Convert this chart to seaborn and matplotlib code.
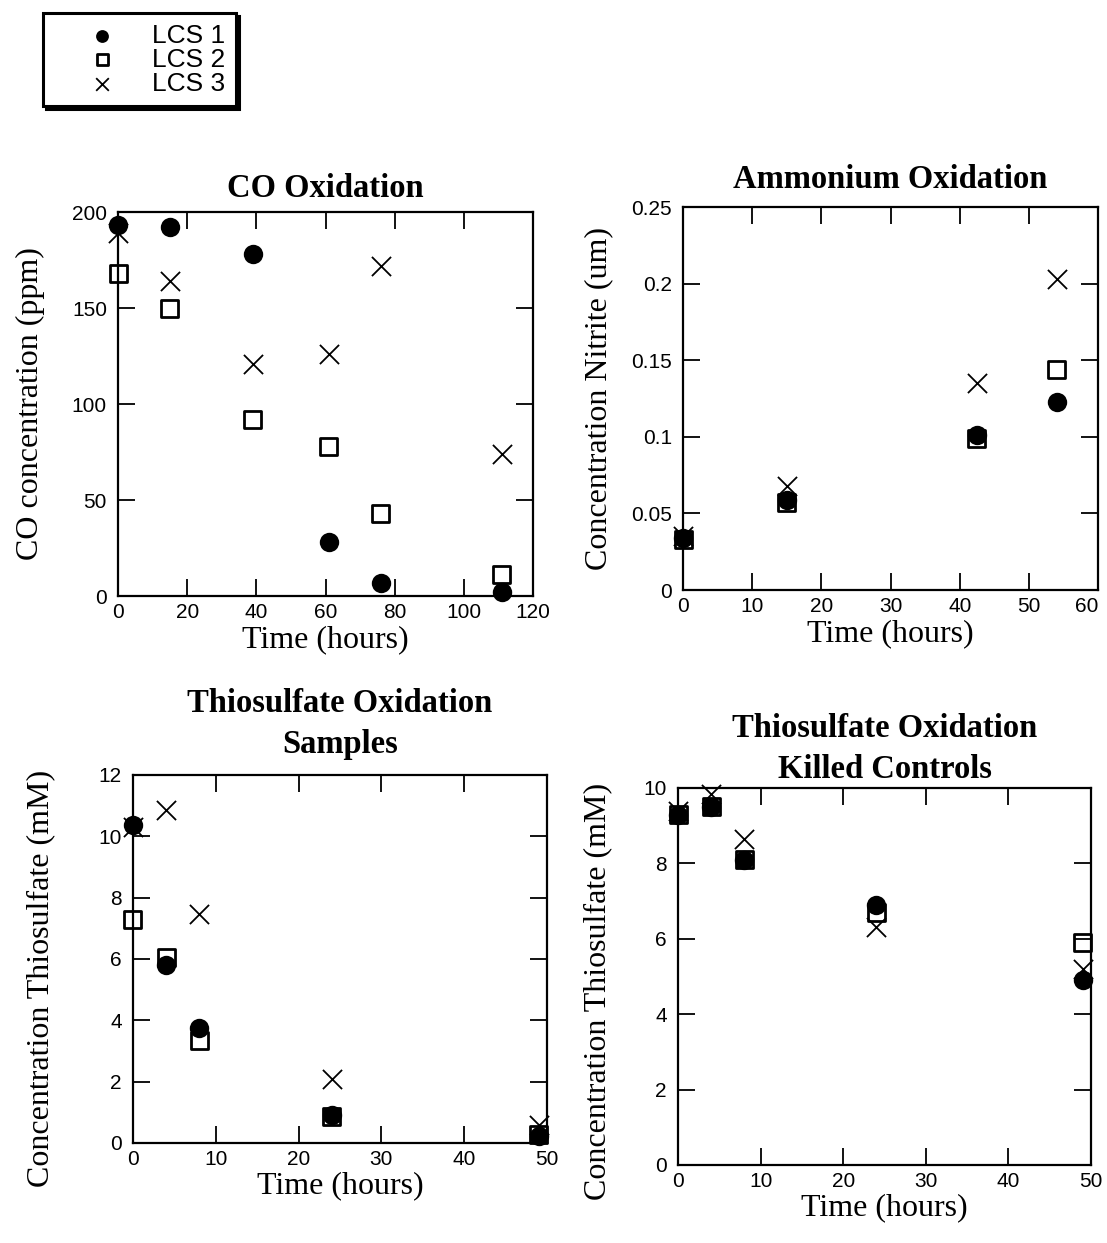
import numpy as np
import pandas as pd
import matplotlib
matplotlib.use("Agg")
import matplotlib.pyplot as plt
import seaborn as sns

# CO oxidation (ppm)
co_time = [0, 15, 39, 61, 76, 111]
co_lcs1 = [193, 192, 178, 28, 7, 2]
co_lcs2 = [168, 150, 92, 78, 43, 11]
co_lcs3 = [189, 164, 121, 126, 172, 74]

# Ammonium oxidation, nitrite (um)
nh_time = [0, 15, 42.5, 54]
nh_lcs1 = [0.034, 0.059, 0.101, 0.123]
nh_lcs2 = [0.033, 0.057, 0.099, 0.144]
nh_lcs3 = [0.035, 0.068, 0.135, 0.203]

# Thiosulfate oxidation, samples (mM)
ts_time = [0, 4, 8, 24, 49]
ts_lcs1 = [10.35, 5.8, 3.75, 0.9, 0.22]
ts_lcs2 = [7.3, 6.05, 3.35, 0.85, 0.27]
ts_lcs3 = [10.3, 10.85, 7.45, 2.1, 0.6]

# Thiosulfate oxidation, killed controls (mM)
kc_time = [0, 4, 8, 24, 49]
kc_lcs1 = [9.27, 9.5, 8.1, 6.9, 4.9]
kc_lcs2 = [9.3, 9.5, 8.1, 6.7, 5.9]
kc_lcs3 = [9.4, 9.85, 8.65, 6.3, 5.2]

labels = ["LCS 1", "LCS 2", "LCS 3"]

sns.set_style("ticks")
plt.rcParams["font.family"] = ["Liberation Sans", "DejaVu Sans"]
plt.rcParams["axes.linewidth"] = 1.6
for key in ["text.color", "axes.labelcolor", "xtick.color", "ytick.color",
            "axes.edgecolor"]:
    plt.rcParams[key] = "black"
serif = ["Liberation Serif", "DejaVu Serif"]


def draw_panel(ax, time, series, title, title_pad, ylabel, ylab_pos,
               xlim, xticks, ylim, yticks):
    df = pd.DataFrame({"time": time, labels[0]: series[0],
                       labels[1]: series[1], labels[2]: series[2]})
    sns.scatterplot(data=df, x="time", y=labels[2], ax=ax, marker="x",
                    color="black", s=190, linewidth=1.3, label=labels[2],
                    clip_on=False, zorder=3)
    sns.scatterplot(data=df, x="time", y=labels[1], ax=ax, marker="s",
                    color="black", edgecolor="black", s=150, linewidth=2,
                    label=labels[1], clip_on=False, zorder=3)
    ax.collections[-1].set_facecolor("none")
    sns.scatterplot(data=df, x="time", y=labels[0], ax=ax, marker="o",
                    color="black", edgecolor="black", s=195, linewidth=0,
                    label=labels[0], clip_on=False, zorder=4)
    if ax.get_legend() is not None:
        ax.get_legend().remove()
    ax.set_xlim(xlim)
    ax.set_ylim(ylim)
    ax.set_xticks(xticks)
    ax.set_yticks(yticks)
    ax.yaxis.set_major_formatter(matplotlib.ticker.FormatStrFormatter("%g"))
    ax.tick_params(direction="in", length=12, width=1.3, top=True,
                   right=True, labelsize=15)
    ax.tick_params(axis="x", pad=5)
    ax.tick_params(axis="y", pad=8)
    ax.set_title(title, family=serif, fontweight="bold", fontsize=23.5,
                 pad=title_pad, linespacing=1.42)
    ax.set_xlabel("Time (hours)", family=serif, fontsize=23, labelpad=2)
    ax.set_ylabel(ylabel, family=serif, fontsize=23)
    ax.yaxis.set_label_coords(*ylab_pos)
    for sp in ax.spines.values():
        sp.set_visible(True)


fig = plt.figure(figsize=(11.07, 12.43), dpi=100)
ax1 = fig.add_axes([0.1066, 0.5205, 0.3749, 0.3089])
ax2 = fig.add_axes([0.617, 0.5253, 0.3749, 0.3081])
ax3 = fig.add_axes([0.1201, 0.0805, 0.374, 0.2961])
ax4 = fig.add_axes([0.6125, 0.0628, 0.3731, 0.3033])

draw_panel(ax1, co_time, [co_lcs1, co_lcs2, co_lcs3], "CO Oxidation", 11,
           "CO concentration (ppm)", (-0.176, 0.5), (0, 120),
           np.arange(0, 121, 20), (0, 200), np.arange(0, 201, 50))
draw_panel(ax2, nh_time, [nh_lcs1, nh_lcs2, nh_lcs3], "Ammonium Oxidation",
           14, "Concentration Nitrite (um)", (-0.169, 0.5), (0, 60),
           np.arange(0, 61, 10), (0, 0.25), np.arange(0, 0.26, 0.05))
draw_panel(ax3, ts_time, [ts_lcs1, ts_lcs2, ts_lcs3],
           "Thiosulfate Oxidation\nSamples", 16,
           "Concentration Thiosulfate (mM)", (-0.188, 0.446), (0, 50),
           np.arange(0, 51, 10), (0, 12), np.arange(0, 13, 2))
draw_panel(ax4, kc_time, [kc_lcs1, kc_lcs2, kc_lcs3],
           "Thiosulfate Oxidation\nKilled Controls", 7,
           "Concentration Thiosulfate (mM)", (-0.160, 0.459), (0, 50),
           np.arange(0, 51, 10), (0, 10), np.arange(0, 11, 2))

# last x tick label of the nitrite panel sits just inside the figure edge
ax2.get_xticklabels()[-1].set_horizontalalignment("right")

handles, hlabels = ax1.get_legend_handles_labels()
order = [hlabels.index(l) for l in labels]
leg = fig.legend([handles[i] for i in order], labels, loc="upper left",
                 bbox_to_anchor=(0.0388, 0.9895), borderaxespad=0,
                 frameon=True, fancybox=False,
                 shadow={"color": "black", "alpha": 1}, fontsize=19,
                 labelspacing=0.0, handletextpad=0.05, borderpad=0.4,
                 handlelength=3.7, markerscale=0.66, edgecolor="black")
leg.get_frame().set_linewidth(2.2)

fig.savefig("out.png", dpi=100)
